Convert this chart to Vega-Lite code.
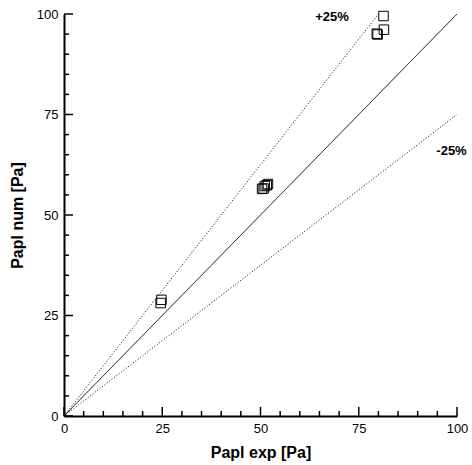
{
  "$schema": "https://vega.github.io/schema/vega-lite/v6.json",
  "autosize": "none",
  "width": 393,
  "height": 402,
  "padding": {"left": 64, "top": 14, "right": 15, "bottom": 49},
  "background": "white",
  "config": {
    "view": {"stroke": null},
    "font": "Liberation Sans",
    "axis": {
      "grid": false,
      "domainColor": "black",
      "domainWidth": 2,
      "ticks": false,
      "tickSize": 0,
      "labelColor": "black",
      "labelFontSize": 13,
      "labelFont": "Liberation Sans",
      "titleFont": "Liberation Sans",
      "titleFontSize": 16,
      "titleFontWeight": "bold",
      "titleColor": "black"
    }
  },
  "datasets": {
    "major": [{"v": 0}, {"v": 25}, {"v": 50}, {"v": 75}, {"v": 100}],
    "minor": [{"v": 5}, {"v": 10}, {"v": 15}, {"v": 20}, {"v": 30}, {"v": 35}, {"v": 40}, {"v": 45}, {"v": 55}, {"v": 60}, {"v": 65}, {"v": 70}, {"v": 80}, {"v": 85}, {"v": 90}, {"v": 95}]
  },
  "layer": [
    {
      "data": {"values": [
        {"line": "equal", "kind": "solid", "x": 0, "y": 0},
        {"line": "equal", "kind": "solid", "x": 100, "y": 100},
        {"line": "plus", "kind": "dotted", "x": 0, "y": 0},
        {"line": "plus", "kind": "dotted", "x": 80, "y": 100},
        {"line": "minus", "kind": "dotted", "x": 0, "y": 0},
        {"line": "minus", "kind": "dotted", "x": 100, "y": 75}
      ]},
      "mark": {"type": "line", "color": "black", "strokeWidth": 1},
      "encoding": {
        "x": {"field": "x", "type": "quantitative", "scale": {"domain": [0, 100], "nice": false},
          "axis": {"title": "Papl exp [Pa]", "orient": "bottom", "values": [0, 25, 50, 75, 100], "ticks": false, "labelPadding": 6, "labelOverlap": false, "labelFlush": false, "titlePadding": 9}},
        "y": {"field": "y", "type": "quantitative", "scale": {"domain": [0, 100], "nice": false},
          "axis": {"title": "Papl num [Pa]", "orient": "left", "values": [0, 25, 50, 75, 100], "ticks": false, "labelPadding": 6, "labelOverlap": false, "labelFlush": false, "titlePadding": 11}},
        "detail": {"field": "line"},
        "strokeDash": {"field": "kind", "type": "nominal", "scale": {"domain": ["solid", "dotted"], "range": [[1, 0], [1, 2]]}, "legend": null}
      }
    },
    {
      "data": {"name": "major"},
      "mark": {"type": "tick", "orient": "vertical", "color": "black", "size": 9, "thickness": 1.5, "yOffset": -4.5, "opacity": 1},
      "encoding": {
        "x": {"field": "v", "type": "quantitative"},
        "y": {"datum": 0, "type": "quantitative"}
      }
    },
    {
      "data": {"name": "minor"},
      "mark": {"type": "tick", "orient": "vertical", "color": "black", "size": 5, "thickness": 1.5, "yOffset": -2.5, "opacity": 1},
      "encoding": {
        "x": {"field": "v", "type": "quantitative"},
        "y": {"datum": 0, "type": "quantitative"}
      }
    },
    {
      "data": {"name": "major"},
      "mark": {"type": "tick", "orient": "horizontal", "color": "black", "size": 9, "thickness": 1.5, "xOffset": 4.5, "opacity": 1},
      "encoding": {
        "y": {"field": "v", "type": "quantitative"},
        "x": {"datum": 0, "type": "quantitative"}
      }
    },
    {
      "data": {"name": "minor"},
      "mark": {"type": "tick", "orient": "horizontal", "color": "black", "size": 5, "thickness": 1.5, "xOffset": 2.5, "opacity": 1},
      "encoding": {
        "y": {"field": "v", "type": "quantitative"},
        "x": {"datum": 0, "type": "quantitative"}
      }
    },
    {
      "data": {"values": [
        {"exp": 24.6, "num": 28.1},
        {"exp": 24.8, "num": 28.9},
        {"exp": 50.4, "num": 56.5},
        {"exp": 50.8, "num": 56.6},
        {"exp": 51.1, "num": 57.2},
        {"exp": 51.6, "num": 57.4},
        {"exp": 51.9, "num": 57.7},
        {"exp": 79.6, "num": 95.1},
        {"exp": 79.8, "num": 94.9},
        {"exp": 81.4, "num": 96.1},
        {"exp": 81.3, "num": 99.5}
      ]},
      "mark": {"type": "point", "shape": "square", "filled": false, "size": 90, "color": "black", "strokeWidth": 1, "opacity": 1},
      "encoding": {
        "x": {"field": "exp", "type": "quantitative"},
        "y": {"field": "num", "type": "quantitative"}
      }
    },
    {
      "data": {"values": [
        {"label": "+25%", "x": 68.2, "y": 99.3},
        {"label": "-25%", "x": 98.6, "y": 66}
      ]},
      "mark": {"type": "text", "fontWeight": "bold", "fontSize": 13, "color": "black", "font": "Liberation Sans"},
      "encoding": {
        "x": {"field": "x", "type": "quantitative"},
        "y": {"field": "y", "type": "quantitative"},
        "text": {"field": "label"}
      }
    }
  ]
}
